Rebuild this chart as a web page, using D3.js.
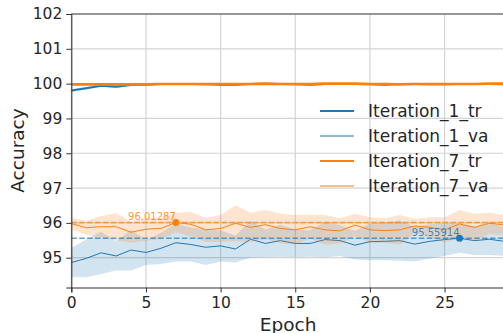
<!DOCTYPE html>
<html>
<head>
<meta charset="utf-8">
<script src="https://cdn.jsdelivr.net/npm/d3@7"></script>
<style>
  body { margin: 0; background: #fff; }
  text { font-family: "DejaVu Sans", sans-serif; fill: #262626; }
</style>
</head>
<body>
<div id="container"></div>
<script>
/* CONSTANTS AND GLOBALS */
const width = 503,
  height = 333,
  margin = { top: 14, bottom: 45.5, left: 71.3, right: -1.3 };

/* DATA */
const epochs = [0, 1, 2, 3, 4, 5, 6, 7, 8, 9, 10, 11, 12, 13, 14, 15, 16, 17, 18, 19, 20, 21, 22, 23, 24, 25, 26, 27, 28, 29];

const tr1 = [99.80, 99.87, 99.94, 99.91, 99.96, 99.97, 99.99, 99.99, 99.99, 99.98, 99.97, 99.97, 99.99, 100.0, 99.99,
  99.98, 99.97, 99.99, 99.99, 99.99, 99.98, 99.97, 99.99, 99.99, 99.98, 99.98, 99.99, 99.99, 99.99, 99.98];
const tr1Std = [0.04, 0.04, 0.03, 0.04, 0.02, 0.02, 0.01, 0.01, 0.01, 0.01, 0.01, 0.01, 0.01, 0.01, 0.01,
  0.01, 0.01, 0.01, 0.01, 0.01, 0.01, 0.01, 0.01, 0.01, 0.01, 0.01, 0.01, 0.01, 0.01, 0.01];

const va1 = [94.86, 94.98, 95.14, 95.05, 95.22, 95.15, 95.27, 95.43, 95.38, 95.30, 95.34, 95.25, 95.53, 95.41, 95.49,
  95.41, 95.41, 95.52, 95.49, 95.36, 95.46, 95.47, 95.49, 95.39, 95.47, 95.52, 95.55914, 95.49, 95.53, 95.47];
const va1Std = [0.42, 0.54, 0.61, 0.42, 0.59, 0.36, 0.45, 0.54, 0.49, 0.51, 0.45, 0.39, 0.53, 0.40, 0.46,
  0.40, 0.38, 0.51, 0.44, 0.41, 0.53, 0.54, 0.58, 0.50, 0.49, 0.47, 0.42, 0.41, 0.45, 0.42];

const tr7 = [99.98, 99.98, 99.98, 99.98, 99.98, 99.98, 99.99, 99.99, 99.99, 99.99, 99.99, 99.99, 99.99, 100.0, 99.99,
  99.99, 99.99, 100.0, 100.0, 100.0, 99.99, 99.99, 99.98, 99.99, 99.99, 99.99, 99.99, 99.99, 100.0, 100.0];
const tr7Std = [0.01, 0.01, 0.01, 0.01, 0.01, 0.01, 0.01, 0.01, 0.01, 0.01, 0.01, 0.01, 0.01, 0.01, 0.01,
  0.01, 0.02, 0.02, 0.02, 0.02, 0.01, 0.01, 0.01, 0.01, 0.01, 0.01, 0.01, 0.01, 0.01, 0.01];

const va7 = [95.98, 95.86, 95.89, 95.89, 95.73, 95.82, 95.84, 96.01287, 95.96, 95.80, 95.84, 95.99, 95.87, 95.95, 95.84,
  95.80, 95.89, 95.80, 95.77, 95.94, 95.80, 95.78, 95.80, 95.91, 95.87, 95.80, 95.97, 95.87, 95.99, 95.94];
const va7Std = [0.17, 0.20, 0.31, 0.39, 0.30, 0.33, 0.30, 0.28, 0.35, 0.35, 0.39, 0.52, 0.42, 0.42, 0.42,
  0.43, 0.34, 0.43, 0.36, 0.32, 0.36, 0.35, 0.43, 0.20, 0.29, 0.36, 0.40, 0.39, 0.30, 0.29];

const xTicks = [0, 5, 10, 15, 20, 25];
const yTicks = [95, 96, 97, 98, 99, 100, 101, 102];
const legendLabels = ["Iteration_1_tr", "Iteration_1_va", "Iteration_7_tr", "Iteration_7_va"];

const blue = "#1f77b4", orange = "#ff7f0e";

/* SCALES */
const xScale = d3.scaleLinear()
  .domain([0, 29])
  .range([margin.left, width - margin.right]);

const yScale = d3.scaleLinear()
  .domain([94.144, 102])
  .range([height - margin.bottom, margin.top]);

/* SVG */
const svg = d3.select("#container")
  .append("svg")
  .attr("width", width)
  .attr("height", height);

svg.append("defs").append("clipPath")
  .attr("id", "plot")
  .append("rect")
  .attr("x", margin.left)
  .attr("y", margin.top)
  .attr("width", width - margin.left)
  .attr("height", height - margin.bottom - margin.top);

// grid
const grid = svg.append("g");
grid.selectAll("line.gx")
  .data(xTicks)
  .join("line")
  .attr("x1", d => xScale(d)).attr("x2", d => xScale(d))
  .attr("y1", margin.top).attr("y2", height - margin.bottom)
  .attr("stroke", "#d4d4d4").attr("stroke-width", 1.2);
grid.selectAll("line.gy")
  .data(yTicks)
  .join("line")
  .attr("x1", margin.left).attr("x2", width)
  .attr("y1", d => yScale(d)).attr("y2", d => yScale(d))
  .attr("stroke", "#d4d4d4").attr("stroke-width", 1.2);

const plot = svg.append("g").attr("clip-path", "url(#plot)");

const line = vals => d3.line()
  .x((d, i) => xScale(epochs[i]))
  .y(d => yScale(d))(vals);

const band = (vals, std) => d3.area()
  .x((d, i) => xScale(epochs[i]))
  .y0((d, i) => yScale(d - std[i]))
  .y1((d, i) => yScale(d + std[i]))(vals);

// w: width in plot, lw: width in legend
const series = [
  { v: tr1, s: tr1Std, c: blue, w: 2, lw: 2 },
  { v: va1, s: va1Std, c: blue, w: 1, lw: 1 },
  { v: tr7, s: tr7Std, c: orange, w: 2.6, lw: 2 },
  { v: va7, s: va7Std, c: orange, w: 1, lw: 1 }
];

series.forEach(d => {
  plot.append("path")
    .attr("d", band(d.v, d.s))
    .attr("fill", d.c)
    .attr("fill-opacity", 0.2);
  plot.append("path")
    .attr("d", line(d.v))
    .attr("fill", "none")
    .attr("stroke", d.c)
    .attr("stroke-width", d.w);
});

// best validation markers
[{ v: va7, c: orange }, { v: va1, c: blue }].forEach(d => {
  const best = d3.max(d.v);
  const idx = d.v.indexOf(best);
  plot.append("line")
    .attr("x1", margin.left).attr("x2", width)
    .attr("y1", yScale(best)).attr("y2", yScale(best))
    .attr("stroke", d.c)
    .attr("stroke-opacity", 0.7)
    .attr("stroke-width", 1.5)
    .attr("stroke-dasharray", "5.5,2.4");
  plot.append("circle")
    .attr("cx", xScale(epochs[idx]))
    .attr("cy", yScale(best))
    .attr("r", 3.5)
    .attr("fill", d.c);
  svg.append("text")
    .attr("x", xScale(epochs[idx]))
    .attr("y", yScale(best) - 2)
    .attr("text-anchor", "end")
    .style("font-size", "10px")
    .style("fill", d.c)
    .style("fill-opacity", 0.85)
    .text(best.toFixed(5));
});

/* AXES */
const xAxis = d3.axisBottom(xScale).tickValues(xTicks).tickSize(5).tickPadding(4);
const yAxis = d3.axisLeft(yScale).tickValues(yTicks).tickSize(5).tickPadding(4);

svg.append("g")
  .attr("transform", `translate(0,${height - margin.bottom})`)
  .call(xAxis)
  .call(g => g.select(".domain").attr("stroke", "#333").attr("stroke-width", 1.1))
  .call(g => g.selectAll(".tick line").attr("stroke", "#333"))
  .call(g => g.selectAll(".tick text").style("font-size", "15.5px").attr("fill", "#262626"));

svg.append("g")
  .attr("transform", `translate(${margin.left},0)`)
  .call(yAxis)
  .call(g => g.select(".domain").attr("stroke", "#333").attr("stroke-width", 1.1))
  .call(g => g.selectAll(".tick line").attr("stroke", "#333"))
  .call(g => g.selectAll(".tick text").style("font-size", "15.5px").attr("fill", "#262626"));

// top spine
svg.append("line")
  .attr("x1", margin.left).attr("x2", width)
  .attr("y1", margin.top).attr("y2", margin.top)
  .attr("stroke", "#444").attr("stroke-width", 1.1);

// axis labels
svg.append("text")
  .attr("x", (margin.left + width) / 2 + 1)
  .attr("y", 330.5)
  .attr("text-anchor", "middle")
  .style("font-size", "18.5px")
  .text("Epoch");

svg.append("text")
  .attr("transform", `translate(23.5,150.5) rotate(-90)`)
  .attr("text-anchor", "middle")
  .style("font-size", "18.5px")
  .text("Accuracy");

/* LEGEND */
const legend = svg.append("g");
legendLabels.forEach((lab, i) => {
  const y = 111 + i * 25;
  legend.append("line")
    .attr("x1", 320).attr("x2", 354)
    .attr("y1", y).attr("y2", y)
    .attr("stroke", series[i].c)
    .attr("stroke-width", series[i].lw);
  legend.append("text")
    .attr("x", 368)
    .attr("y", y + 6)
    .style("font-size", "17px")
    .text(lab);
});
</script>
</body>
</html>
